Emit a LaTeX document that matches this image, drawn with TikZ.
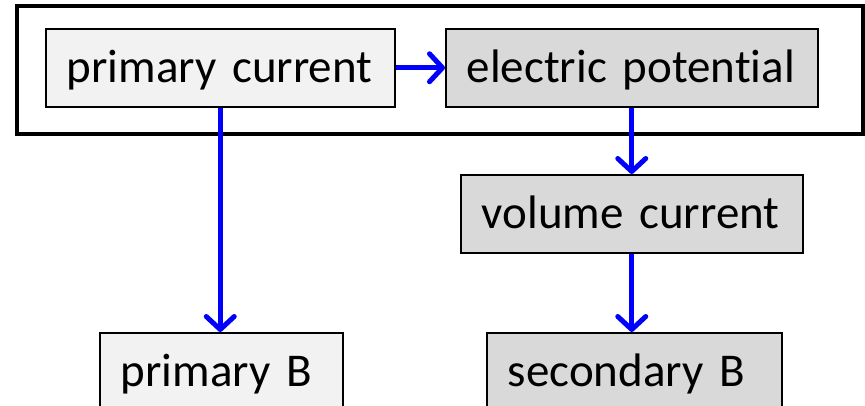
\documentclass[tikz,border=0pt]{standalone}
\usepackage{fontspec}
\setmainfont[Ligatures={NoCommon}]{Carlito}
\usetikzlibrary{arrows.meta}
\definecolor{lightfill}{HTML}{F2F2F2}
\definecolor{darkfill}{HTML}{D9D9D9}
\definecolor{flowblue}{HTML}{0000FF}
\tikzset{
  box/.style={draw=black, line width=1.5pt, anchor=north west,
    minimum height=78pt, inner xsep=21pt, inner ysep=0pt,
    align=left, text height=40pt, text depth=10pt,
    font=\fontsize{47}{50}\selectfont},
  flow/.style={draw=flowblue, line width=5pt,
    -{Straight Barb[length=13pt,width=28pt,round]}},
  frame/.style={draw=black, line width=4pt}
}
\begin{document}
\begin{tikzpicture}[x=1pt,y=-1pt]
  \useasboundingbox (0,0) rectangle (865,405);
  \clip (0,0) rectangle (865,405);
  % outer frame around the first row
  \draw[frame] (17,6) rectangle (862.5,134);
  % boxes
  \node[box, fill=lightfill, text width=307pt] (pc) at (45,28) {primary current};
  \node[box, fill=darkfill, text width=330pt] (ep) at (445,28) {electric potential};
  \node[box, fill=darkfill, text width=300pt] (vc) at (460,174) {volume current};
  \node[box, fill=lightfill, text width=201pt] (pb) at (99,332) {primary B};
  \node[box, fill=darkfill, text width=253pt] (sb) at (486,332) {secondary B};
  % connectors
  \draw[flow] (pc.east) -- (ep.west);
  \draw[flow] (pc.south) -- (pc.south |- pb.north);
  \draw[flow] (ep.south) -- (ep.south |- vc.north);
  \draw[flow] (vc.south) -- (vc.south |- sb.north);
\end{tikzpicture}
\end{document}
